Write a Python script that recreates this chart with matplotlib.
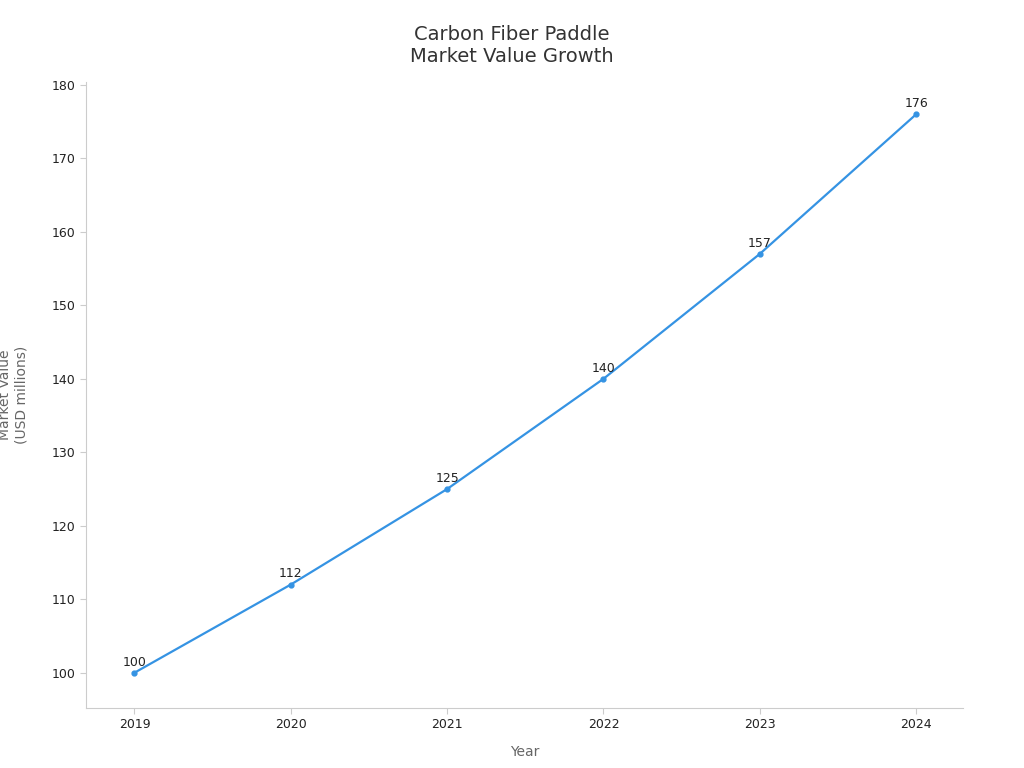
import matplotlib
matplotlib.use("Agg")
import matplotlib.pyplot as plt

years = [2019, 2020, 2021, 2022, 2023, 2024]
values = [100, 112, 125, 140, 157, 176]

line_color = "#3593e3"

fig = plt.figure(figsize=(10.24, 7.68), dpi=100)
ax = fig.add_axes([86 / 1024, 1 - 708 / 768, (963 - 86) / 1024, (708 - 82) / 768])

ax.plot(years, values, color=line_color, lw=1.6, marker="o", ms=3.5)
for x, y in zip(years, values):
    ax.annotate(f"{y}", (x, y), xytext=(0, 3), textcoords="offset points",
                ha="center", va="bottom", fontsize=9, color="#222222")

ax.set_xlim(2018.69, 2024.3)
ax.set_ylim(95.2, 180.4)
ax.set_xticks(years)
ax.set_yticks(range(100, 181, 10))
ax.tick_params(labelsize=9, colors="#222222", length=4, color="#cccccc")

for side in ("top", "right"):
    ax.spines[side].set_visible(False)
for side in ("left", "bottom"):
    ax.spines[side].set_color("#cccccc")

ax.set_xlabel("Year", fontsize=10, color="#666666", labelpad=10)
ax.set_ylabel("Market Value\n(USD millions)", fontsize=10, color="#666666")
ax.yaxis.set_label_coords(-58 / 877, 0.5)
fig.text(0.5, 1 - 46 / 768, "Carbon Fiber Paddle\nMarket Value Growth",
         ha="center", va="center", fontsize=14, color="#333333")

fig.savefig("out.png", dpi=100)
